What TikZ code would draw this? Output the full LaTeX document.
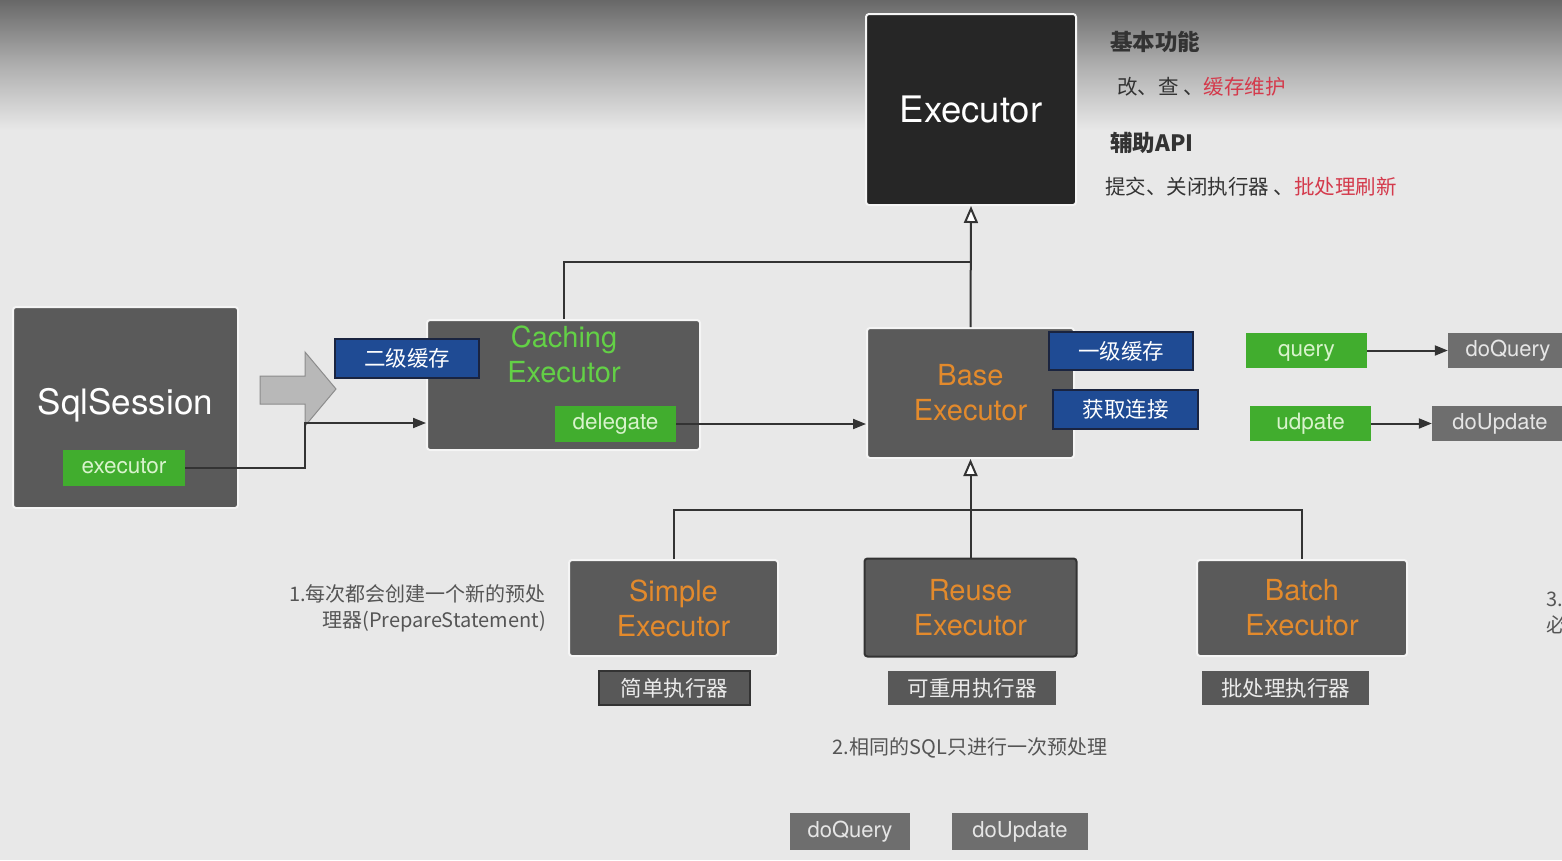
\documentclass[tikz,border=0pt]{standalone}
\usepackage{fontspec}
\setmainfont{TeX Gyre Heros}
\newfontfamily\cjk{Noto Sans CJK SC}
\usetikzlibrary{arrows.meta}
\definecolor{bg}{HTML}{E8E8E8}
\definecolor{topgray}{HTML}{686868}
\definecolor{boxgray}{HTML}{5A5A5A}
\definecolor{darkbox}{HTML}{262626}
\definecolor{lgreen}{HTML}{41AD2E}
\definecolor{lgtext}{HTML}{D8F3CC}
\definecolor{dblue}{HTML}{1F4B94}
\definecolor{bluedge}{HTML}{1A2440}
\definecolor{orangeT}{HTML}{E38A2C}
\definecolor{greenT}{HTML}{63D046}
\definecolor{methgray}{HTML}{6E6E6E}
\definecolor{lblgray}{HTML}{585858}
\definecolor{lineC}{HTML}{333333}
\definecolor{redT}{HTML}{D43A4C}
\definecolor{txtD}{HTML}{333333}
\definecolor{txtG}{HTML}{555555}
\begin{document}
\begin{tikzpicture}[x=1pt,y=-1pt,
  box/.style={draw=white!96!black, line width=2pt, fill=boxgray, rounded corners=3pt, inner sep=0pt},
  clsname/.style={align=center, text=orangeT, font=\fontsize{29}{35}\selectfont},
  greenlbl/.style={fill=lgreen, text=lgtext, inner sep=0pt, text height=16pt, text depth=5pt, font=\fontsize{22.5}{26}\selectfont},
  bluelbl/.style={fill=dblue, draw=bluedge, line width=1.5pt, text=white, inner sep=0pt, font=\cjk\fontsize{21.5}{25}\selectfont},
  graylbl/.style={fill=lblgray, text=white!92!black, inner sep=0pt, font=\cjk\fontsize{21.5}{25}\selectfont},
  method/.style={fill=methgray, text=white!90!black, inner sep=0pt, text height=16pt, text depth=5pt, font=\fontsize{22}{26}\selectfont},
  desc/.style={inner sep=0pt, anchor=west, font=\cjk\fontsize{20.5}{25}\selectfont, text=txtD},
  head/.style={inner sep=0pt, anchor=west, font=\cjk\bfseries\fontsize{22.5}{27}\selectfont, text=txtD},
  note/.style={inner sep=0pt, font=\cjk\fontsize{20}{26}\selectfont, text=txtG},
  conn/.style={draw=lineC, line width=2pt},
  arr/.style={conn, -{Triangle[length=13pt,width=10pt]}},
  inh/.style={conn, -{Triangle[length=17pt,width=14pt,fill=white]}}
]
% background
\fill[bg] (0,0) rectangle (1562,860);
\shade[top color=topgray, bottom color=bg, middle color=topgray!45!bg] (0,0) rectangle (1562,130);
\useasboundingbox (0,0) rectangle (1562,860);

% Executor
\node[box, fill=darkbox, minimum width=210pt, minimum height=191pt, text=white,
      font=\fontsize{36.5}{44}\selectfont] (executor) at (971,109.5) {Executor};

% description texts
\node[head] (t1) at (1110,42) {基本功能};
\node[desc] (t2) at (1117,87) {改、查 、\textcolor{redT}{缓存维护}};
\node[head] (t3) at (1110,143) {辅助API};
\node[desc] (t4) at (1105,187) {提交、关闭执行器 、\textcolor{redT}{批处理刷新}};

% SqlSession
\node[box, minimum width=225pt, minimum height=201pt] (sqlsession) at (125.5,407.5) {};
\node[text=white, font=\fontsize{35}{42}\selectfont, inner sep=0pt] (sqltext) at (125.5,405) {SqlSession};
\node[greenlbl, minimum width=122pt, minimum height=36pt] (exe) at (124,468) {executor};

% block arrow
\draw[fill=black!28, draw=black!45, line width=1pt]
  (260,376) -- (305,376) -- (305,352) -- (336,389) -- (305,426) -- (305,404) -- (260,404) -- cycle;

% Caching Executor
\node[box, minimum width=273pt, minimum height=130pt] (caching) at (563.5,385) {};
\node[clsname, text=greenT, inner sep=0pt] (cachtext) at (564,354) {Caching\\Executor};
\node[greenlbl, minimum width=121pt, minimum height=36pt] (delegate) at (615.5,424) {delegate};
\node[bluelbl, minimum width=144pt, minimum height=39pt] (l2cache) at (407,358.5) {二级缓存};

% Base Executor
\node[box, minimum width=207pt, minimum height=130pt, clsname] (base) at (970.5,393) {Base\\Executor};
\node[bluelbl, minimum width=144pt, minimum height=38pt] (l1cache) at (1121,351) {一级缓存};
\node[bluelbl, minimum width=145pt, minimum height=39pt] (getconn) at (1125.5,409.5) {获取连接};

% query / update
\node[greenlbl, minimum width=121pt, minimum height=35pt] (query) at (1306.5,350.5) {query};
\node[method, minimum width=120pt, minimum height=35pt] (doquery) at (1508,350.5) {doQuery};
\node[greenlbl, minimum width=121pt, minimum height=35pt] (udpate) at (1310.5,423.5) {udpate};
\node[method, minimum width=136pt, minimum height=35pt] (doupdate) at (1500,423.5) {doUpdate};

% sub executors
\node[box, minimum width=209pt, minimum height=96pt, clsname] (simple) at (673.5,608) {Simple\\Executor};
\node[graylbl, draw=lineC, line width=2pt, minimum width=151pt, minimum height=34pt] (simplelbl) at (674.5,688) {简单执行器};
\node[box, draw=lineC, minimum width=212pt, minimum height=98pt, clsname] (reuse) at (970.5,607.5) {Reuse\\Executor};
\node[graylbl, minimum width=168pt, minimum height=34pt] (reuselbl) at (972,688) {可重用执行器};
\node[box, minimum width=210pt, minimum height=96pt, clsname] (batch) at (1302,608) {Batch\\Executor};
\node[graylbl, minimum width=167pt, minimum height=34pt] (batchlbl) at (1285.5,688) {批处理执行器};

% notes
\node[note, align=right, anchor=east] (note1) at (546,608) {1.每次都会创建一个新的预处\\理器(PrepareStatement)};
\node[note] (note2) at (970,748) {2.相同的SQL只进行一次预处理};
\node[note, align=left, anchor=west] (note3) at (1546,613) {3.\\必};

% bottom methods
\node[method, minimum width=120pt, minimum height=37pt] (bdoquery) at (850,831.5) {doQuery};
\node[method, minimum width=136pt, minimum height=37pt] (bdoupdate) at (1020,831.5) {doUpdate};

% connectors
\coordinate (j1) at (305,423);
\coordinate (jtop) at (971,262);
\coordinate (jbot) at (971,510);
\draw[arr] (exe.east) -| (j1) -- (caching.west |- j1);
\draw[arr] (delegate.east) -- (base.west |- delegate.east);
\draw[conn] (caching.north) |- (jtop);
\draw[inh] (base.north) -- (executor.south);
\draw[conn] (simple.north) |- (jbot) -| (batch.north);
\draw[inh] (reuse.north) -- (base.south);
\draw[arr] (query.east) -- (doquery.west);
\draw[arr] (udpate.east) -- (doupdate.west);
\end{tikzpicture}
\end{document}
